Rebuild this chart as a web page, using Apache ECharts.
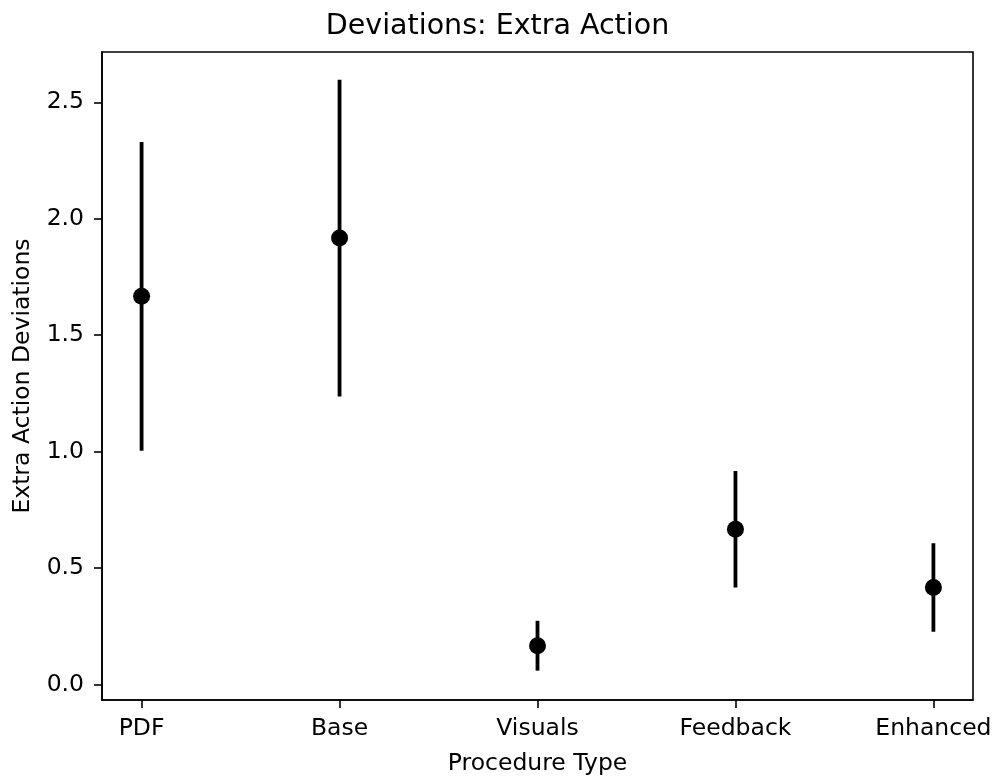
<!DOCTYPE html>
<html><head><meta charset="utf-8">
<script src="https://cdn.jsdelivr.net/npm/echarts@6/dist/echarts.min.js"></script>
<style>html,body{margin:0;padding:0;background:#fff}#c{width:995px;height:776px}</style>
</head><body><div id="c"></div>
<script>
const categories = ['PDF', 'Base', 'Visuals', 'Feedback', 'Enhanced'];
const means = [1.667, 1.917, 0.167, 0.667, 0.417];
const errors = [0.663, 0.68, 0.107, 0.25, 0.19];
const yTicks = [0, 0.5, 1, 1.5, 2, 2.5];
const xTicks = categories.map((c, i) => i);

const font = 'DejaVu Sans';
const chart = echarts.init(document.getElementById('c'), null, {renderer: 'canvas'});
chart.setOption({
  animation: false,
  backgroundColor: '#fff',
  title: {
    text: 'Deviations: Extra Action',
    left: 'center',
    top: 7,
    textStyle: {fontFamily: font, fontSize: 28.5, fontWeight: 'normal', color: '#000'}
  },
  grid: {left: 102, top: 52, right: 22, bottom: 76, show: true, borderColor: '#000', borderWidth: 1.6,
    containLabel: false, outerBoundsMode: 'none'},
  xAxis: {
    type: 'value', min: -0.2, max: 4.2,
    name: 'Procedure Type', nameLocation: 'middle', nameGap: 52,
    nameTextStyle: {fontFamily: font, fontSize: 23.5, color: '#000'},
    axisLine: {show: true, onZero: false, lineStyle: {color: '#000', width: 1.6}},
    axisTick: {show: true, inside: false, customValues: xTicks, length: 8, lineStyle: {color: '#000', width: 1.6}},
    axisLabel: {customValues: xTicks, margin: 17, fontFamily: font, fontSize: 23.5, color: '#000',
      formatter: v => categories[Math.round(v)]},
    splitLine: {show: false}
  },
  yAxis: {
    type: 'value', min: -0.066, max: 2.716,
    name: 'Extra Action Deviations', nameLocation: 'middle', nameGap: 67, nameRotate: 90,
    nameTextStyle: {fontFamily: font, fontSize: 23.5, color: '#000'},
    axisLine: {show: true, onZero: false, lineStyle: {color: '#000', width: 1.6}},
    axisTick: {show: true, inside: false, customValues: yTicks, length: 8, lineStyle: {color: '#000', width: 1.6}},
    axisLabel: {customValues: yTicks, margin: 18, fontFamily: font, fontSize: 23.5, color: '#000',
      formatter: v => v.toFixed(1)},
    splitLine: {show: false}
  },
  series: [
    {
      type: 'custom',
      data: categories.map((c, i) => [i, means[i] - errors[i], means[i] + errors[i]]),
      encode: {x: 0, y: [1, 2]},
      renderItem: (params, api) => {
        const lo = api.coord([api.value(0), api.value(1)]);
        const hi = api.coord([api.value(0), api.value(2)]);
        return {type: 'line', shape: {x1: lo[0], y1: lo[1], x2: hi[0], y2: hi[1]},
          style: {stroke: '#000', lineWidth: 3.8}};
      },
      z: 2
    },
    {
      type: 'scatter',
      data: categories.map((c, i) => [i, means[i]]),
      symbol: 'circle', symbolSize: 17,
      itemStyle: {color: '#000', opacity: 1},
      z: 3
    }
  ]
});
</script></body></html>
